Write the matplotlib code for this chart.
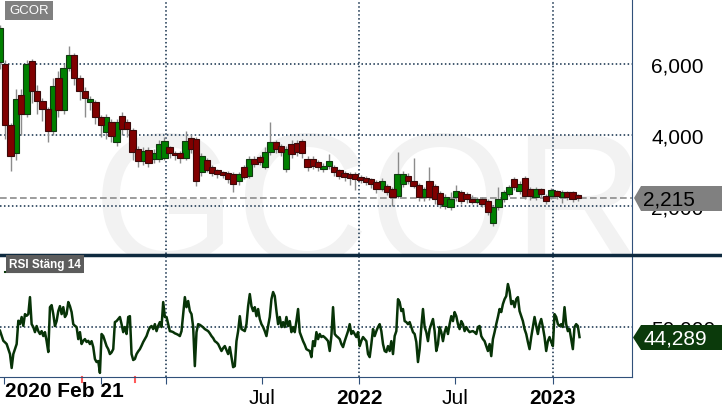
import matplotlib
matplotlib.use("Agg")
import matplotlib.pyplot as plt
import matplotlib.dates as mdates
from matplotlib.patches import Polygon
from matplotlib.lines import Line2D
import numpy as np
import pandas as pd

plt.rcParams['font.family'] = ['Liberation Sans', 'DejaVu Sans']

# candles, one per 10 days from 2020-02-23
opens = [6.05, 6.00, 4.28, 3.50, 5.13, 4.59, 6.08, 5.24, 4.95, 4.73,
         4.11, 5.60, 4.70, 5.90, 6.25, 5.60, 5.25, 4.92, 4.92, 4.50,
         4.08, 4.37, 3.80, 4.54, 4.37, 4.14, 3.60, 3.27, 3.58, 3.32,
         3.32, 3.35, 3.66, 3.49, 3.49, 3.35, 3.92, 3.89, 2.96, 3.30,
         3.10, 3.01, 2.96, 2.93, 2.90, 2.70, 3.10, 2.85, 3.32, 3.38,
         3.10, 3.52, 3.80, 3.69, 3.04, 3.75, 3.78, 3.83, 3.32, 3.32,
         3.24, 3.04, 3.13, 3.10, 3.01, 2.93, 2.90, 2.90, 2.82, 2.79,
         2.76, 2.68, 2.48, 2.56, 2.48, 2.28, 2.62, 2.85, 2.70, 2.59,
         2.25, 2.70, 2.56, 2.37, 2.00, 1.97, 2.25, 2.39, 2.34, 2.20,
         2.11, 2.20, 2.14, 1.52, 1.97, 2.20, 2.34, 2.76, 2.42, 2.79,
         2.48, 2.25, 2.48, 2.28, 2.28, 2.42, 2.25, 2.39, 2.39, 2.31]
closes = [7.01, 4.28, 3.40, 5.01, 4.59, 6.00, 5.24, 4.95, 4.73, 4.11,
          5.38, 4.70, 5.90, 6.25, 5.60, 5.25, 5.05, 5.02, 4.52, 4.28,
          4.51, 3.97, 4.37, 4.17, 4.17, 3.52, 3.27, 3.55, 3.21, 3.49,
          3.75, 3.83, 3.49, 3.44, 3.35, 3.83, 3.61, 2.70, 3.41, 3.01,
          2.93, 2.90, 2.87, 2.76, 2.62, 2.90, 2.82, 3.32, 3.18, 3.24,
          3.52, 3.80, 3.61, 3.52, 3.61, 3.46, 3.52, 3.49, 3.10, 3.13,
          3.10, 3.13, 3.27, 2.96, 2.85, 2.82, 2.79, 2.76, 2.73, 2.68,
          2.62, 2.48, 2.70, 2.39, 2.25, 2.90, 2.90, 2.70, 2.56, 2.25,
          2.48, 2.25, 2.20, 2.06, 2.25, 2.20, 2.42, 2.14, 2.20, 2.11,
          2.20, 2.06, 1.83, 1.97, 2.20, 2.39, 2.53, 2.53, 2.62, 2.28,
          2.28, 2.48, 2.34, 2.14, 2.45, 2.28, 2.39, 2.25, 2.20, 2.215]
highs = [7.10, 6.10, 4.35, 5.30, 5.30, 6.10, 6.15, 5.40, 5.05, 4.80,
         5.60, 5.80, 6.00, 6.50, 6.30, 5.70, 5.35, 5.10, 5.00, 4.55,
         4.60, 4.45, 4.45, 4.65, 4.45, 4.20, 3.70, 3.65, 3.65, 3.60,
         3.85, 3.95, 3.70, 3.55, 3.55, 4.11, 4.00, 3.95, 3.50, 3.35,
         3.15, 3.05, 3.00, 2.98, 2.95, 2.95, 3.15, 3.40, 3.40, 3.45,
         3.65, 4.37, 3.85, 3.75, 3.70, 3.85, 3.85, 3.90, 3.40, 3.40,
         3.30, 3.20, 3.46, 3.15, 3.05, 2.98, 2.95, 2.95, 2.88, 2.85,
         2.80, 2.72, 2.78, 2.62, 2.55, 3.52, 2.98, 2.92, 3.35, 2.65,
         2.55, 3.10, 2.62, 2.42, 2.35, 2.40, 2.60, 2.45, 2.40, 2.30,
         2.25, 2.25, 2.20, 2.02, 2.53, 2.45, 2.60, 2.82, 2.70, 2.85,
         2.55, 2.55, 2.52, 2.35, 2.52, 2.46, 2.45, 2.42, 2.42, 2.34]
lows = [5.85, 3.90, 3.00, 3.30, 4.00, 4.50, 4.90, 4.60, 4.40, 3.80,
        4.00, 4.50, 4.60, 5.80, 5.40, 5.00, 4.50, 4.70, 4.30, 3.95,
        3.90, 3.80, 3.70, 4.00, 3.95, 3.30, 3.10, 3.15, 3.10, 3.20,
        3.25, 3.30, 3.35, 3.30, 3.20, 3.30, 3.50, 2.56, 2.85, 2.95,
        2.85, 2.80, 2.80, 2.65, 2.39, 2.60, 2.75, 2.80, 3.10, 3.15,
        3.05, 3.45, 3.50, 3.40, 2.95, 3.35, 3.40, 3.35, 3.00, 3.05,
        3.00, 2.95, 3.05, 2.85, 2.75, 2.70, 2.60, 2.45, 2.65, 2.58,
        2.50, 2.38, 2.42, 2.30, 2.00, 2.22, 2.55, 2.62, 2.50, 2.15,
        2.15, 2.18, 2.05, 1.95, 1.92, 1.90, 2.15, 2.05, 2.10, 2.05,
        2.05, 1.98, 1.75, 1.45, 1.90, 2.12, 2.28, 2.45, 2.35, 2.20,
        2.18, 2.18, 2.25, 2.05, 2.20, 2.20, 2.08, 2.18, 2.12, 2.15]
candle_dates = pd.date_range('2020-02-23', periods=len(opens), freq='10D')

# RSI (close, 14)
rsi = [48.0, 45.0, 42.1, 41.2, 40.2, 37.2, 34.3, 26.1, 34.3, 37.2,
       40.2, 53.9, 51.9, 56.1, 50.9, 57.8, 56.8, 57.8, 67.8, 51.9,
       50.2, 47.2, 50.8, 47.8, 46.1, 47.8, 44.9, 47.2, 41.9, 35.5,
       61.9, 63.1, 57.8, 50.8, 53.7, 59.6, 62.5, 57.8, 61.9, 56.1,
       57.8, 64.9, 62.5, 59.0, 51.9, 50.9, 50.2, 43.1, 47.2, 40.2,
       42.1, 43.1, 41.4, 42.1, 40.2, 41.9, 38.4, 31.4, 29.6, 30.2,
       23.2, 46.1, 44.9, 41.9, 39.0, 37.2, 34.3, 35.3, 37.2, 53.1,
       53.7, 54.9, 56.1, 51.9, 47.2, 50.2, 46.1, 56.1, 56.6, 34.3,
       30.8, 31.4, 34.3, 35.9, 37.2, 39.2, 41.4, 43.1, 44.9, 47.8,
       50.0, 50.8, 49.0, 51.9, 47.8, 50.9, 53.1, 50.2, 64.9, 56.1,
       56.1, 51.9, 47.8, 47.6, 47.2, 46.5, 46.1, 45.6, 44.9, 47.8,
       57.8, 67.8, 61.9, 65.5, 59.6, 57.8, 50.2, 27.2, 47.2, 51.9,
       51.5, 50.8, 50.0, 49.0, 48.4, 47.8, 46.5, 44.9, 43.7, 41.9,
       41.2, 40.2, 38.2, 36.1, 37.8, 39.0, 36.6, 34.3, 38.4, 32.5,
       26.6, 27.2, 41.9, 47.8, 56.6, 49.0, 48.4, 47.8, 51.9, 62.5,
       69.6, 62.5, 59.6, 61.9, 56.6, 60.8, 54.9, 51.9, 50.2, 47.8,
       44.9, 50.8, 56.1, 66.6, 70.8, 68.4, 59.6, 51.9, 56.1, 50.2,
       53.1, 50.2, 56.1, 50.8, 53.7, 47.2, 50.2, 47.2, 53.7, 60.8,
       47.2, 44.5, 41.9, 39.8, 37.2, 36.6, 36.1, 32.5, 41.9, 39.0,
       47.2, 43.1, 46.1, 44.3, 44.9, 44.1, 43.1, 41.9, 36.1, 44.9,
       61.9, 46.1, 44.9, 44.1, 43.1, 40.2, 38.4, 41.9, 44.9, 47.8,
       51.9, 46.1, 47.8, 46.1, 44.3, 47.2, 39.0, 42.1, 44.3, 43.1,
       41.9, 34.3, 32.5, 40.2, 49.0, 44.9, 47.8, 50.2, 51.9, 47.8,
       40.2, 36.1, 35.5, 39.0, 36.1, 41.9, 34.3, 44.9, 47.8, 66.6,
       64.9, 59.6, 60.8, 53.7, 53.1, 51.9, 53.1, 50.2, 47.2, 46.1,
       41.4, 29.6, 37.2, 50.2, 60.8, 50.2, 47.2, 41.9, 49.0, 51.9,
       54.9, 47.8, 36.1, 40.2, 50.2, 47.2, 41.9, 47.2, 50.2, 46.1,
       51.9, 56.6, 53.7, 59.0, 56.6, 51.9, 49.0, 53.7, 51.9, 47.8,
       50.2, 48.4, 47.2, 47.6, 47.8, 47.1, 46.1, 50.2, 50.8, 44.9,
       43.1, 41.9, 39.0, 36.1, 40.2, 33.1, 43.1, 47.2, 51.9, 56.1,
       60.8, 59.0, 63.7, 66.6, 68.4, 75.5, 71.4, 63.7, 65.5, 61.9,
       66.6, 67.8, 59.6, 56.6, 53.7, 49.0, 46.1, 41.4, 37.2, 44.3,
       50.2, 56.1, 50.8, 46.1, 51.9, 54.9, 50.2, 44.3, 36.1, 41.9,
       44.3, 41.4, 39.0, 57.8, 56.1, 51.9, 50.8, 51.9, 50.2, 61.9,
       51.9, 47.8, 49.0, 43.1, 37.2, 50.2, 51.9, 50.8, 44.289]
rsi_dates = pd.date_range('2020-02-23', '2023-02-20', periods=len(rsi))

last_price = 2.215
last_rsi = 44.289
price_ticks = [2, 4, 6]
price_labels = ['2,000', '4,000', '6,000']
year_lines = ['2021-01-01', '2022-01-01', '2023-01-01']
x_tick_dates = ['2020-03-02', '2020-09-01', '2021-01-01', '2021-07-01',
                '2022-01-01', '2022-07-01', '2023-01-01']
x_tick_labels = ['', '', '', 'Jul', '2022', 'Jul', '2023']
red_tick_dates = ['2020-07-27', '2020-11-04']

W, H = 722, 410
fig = plt.figure(figsize=(W / 100, H / 100), dpi=100)


def fx(px):
    return px / W


def fy(py):
    return 1 - py / H


ax = fig.add_axes([0, fy(255), fx(632), 255 / H])
ax2 = fig.add_axes([0, fy(378), fx(632), 121 / H], sharex=ax)
for a in (ax, ax2):
    a.set_facecolor('none')
    for s in ('left', 'top'):
        a.spines[s].set_visible(False)
    a.spines['right'].set_color('#30507a')
ax.spines['bottom'].set_visible(False)
ax2.spines['bottom'].set_color('#30507a')

grid_kw = dict(color='#102c48', lw=1.1, ls=(0, (1, 1.6)), zorder=1)

# watermark
ax.text(0.585, -0.03, 'GCOR', transform=ax.transAxes, ha='center',
        va='baseline', fontsize=133, color='#f2f2f2', zorder=0, clip_on=True)

cd = mdates.date2num(candle_dates)
o = np.array(opens)
c = np.array(closes)
up = c >= o
ax.vlines(cd, lows, highs, color='#8c8c8c', lw=1, zorder=2)
ax.bar(cd[up], (c - o)[up], bottom=o[up], width=12, color='#008000',
       edgecolor='#123812', lw=0.8, zorder=3)
ax.bar(cd[~up], (o - c)[~up], bottom=c[~up], width=12, color='#800000',
       edgecolor='#3a0a0a', lw=0.8, zorder=3)

for p in price_ticks:
    ax.axhline(p, **grid_kw)
for d in year_lines:
    ax.axvline(mdates.datestr2num(d), **grid_kw)
    ax2.axvline(mdates.datestr2num(d), **grid_kw)
ax.axhline(last_price, color='#8c8c8c', lw=1.2, ls=(0, (4, 2)), zorder=1.5)

ax.set_ylim(0.65, 7.83)
ax.set_xlim(mdates.datestr2num('2020-02-23'), mdates.datestr2num('2023-05-30'))
ax.yaxis.tick_right()
ax.set_yticks(price_ticks)
ax.set_yticklabels(price_labels)
ax.tick_params(axis='y', length=0, pad=14, labelsize=15)
ax.tick_params(axis='x', bottom=False, labelbottom=False)

ax2.plot(mdates.date2num(rsi_dates), rsi, color='#073307', lw=1.8, zorder=3)
ax2.axhline(50, **grid_kw)
ax2.set_ylim(20.8, 92.0)
ax2.yaxis.tick_right()
ax2.set_yticks([50])
ax2.set_yticklabels(['50,000'])
ax2.tick_params(axis='y', length=0, pad=14, labelsize=15)
ax2.set_xticks([mdates.datestr2num(d) for d in x_tick_dates])
ax2.set_xticklabels(x_tick_labels)
ax2.tick_params(axis='x', length=5, color='#30507a', labelsize=15, pad=3)
for lab in ax2.get_xticklabels():
    if lab.get_text().isdigit():
        lab.set_fontweight('bold')
for d in red_tick_dates:
    ax2.plot([mdates.datestr2num(d)] * 2, [0, -0.04], color='#ff5a5a', lw=1.5,
             transform=ax2.get_xaxis_transform(), clip_on=False)

fig.text(fx(5), fy(392), '2020 Feb 21', fontsize=15, fontweight='bold',
         ha='left', va='center')

# panel separator
fig.add_artist(Line2D([0, 1], [fy(255.5), fy(255.5)], color='#0e2a3f', lw=2.5,
                      transform=fig.transFigure))

# value tags on the right
tag1 = Polygon([(fx(634), fy(199)), (fx(641), fy(187)), (1, fy(187)),
                (1, fy(212)), (fx(641), fy(212))], closed=True,
               transform=fig.transFigure, facecolor='#808080', edgecolor='none',
               zorder=5)
fig.add_artist(tag1)
fig.text(fx(643), fy(200), '2,215', fontsize=15, color='black',
         ha='left', va='center', zorder=6)
tag2 = Polygon([(fx(633), fy(338.5)), (fx(641), fy(326)), (1, fy(326)),
                (1, fy(351)), (fx(641), fy(351))], closed=True,
               transform=fig.transFigure, facecolor='#0b3a0b', edgecolor='none',
               zorder=5)
fig.add_artist(tag2)
fig.text(fx(643), fy(339), '44,289', fontsize=15, color='white',
         ha='left', va='center', zorder=6)

# panel titles
fig.text(fx(9), fy(11.5), 'GCOR', fontsize=9.5, color='white', ha='left',
         va='center', bbox=dict(boxstyle='square,pad=0.3', fc='#808080', ec='none'))
fig.text(fx(9), fy(265), 'RSI Stäng 14', fontsize=8.5, fontweight='bold',
         color='white', ha='left', va='center',
         bbox=dict(boxstyle='square,pad=0.25', fc='#5c5c5c', ec='none'))
fig.add_artist(Line2D([fx(5), fx(81)], [fy(272.5), fy(272.5)], color='#0b3a0b',
                      lw=1.5, transform=fig.transFigure))

fig.savefig('out.png', dpi=100)
